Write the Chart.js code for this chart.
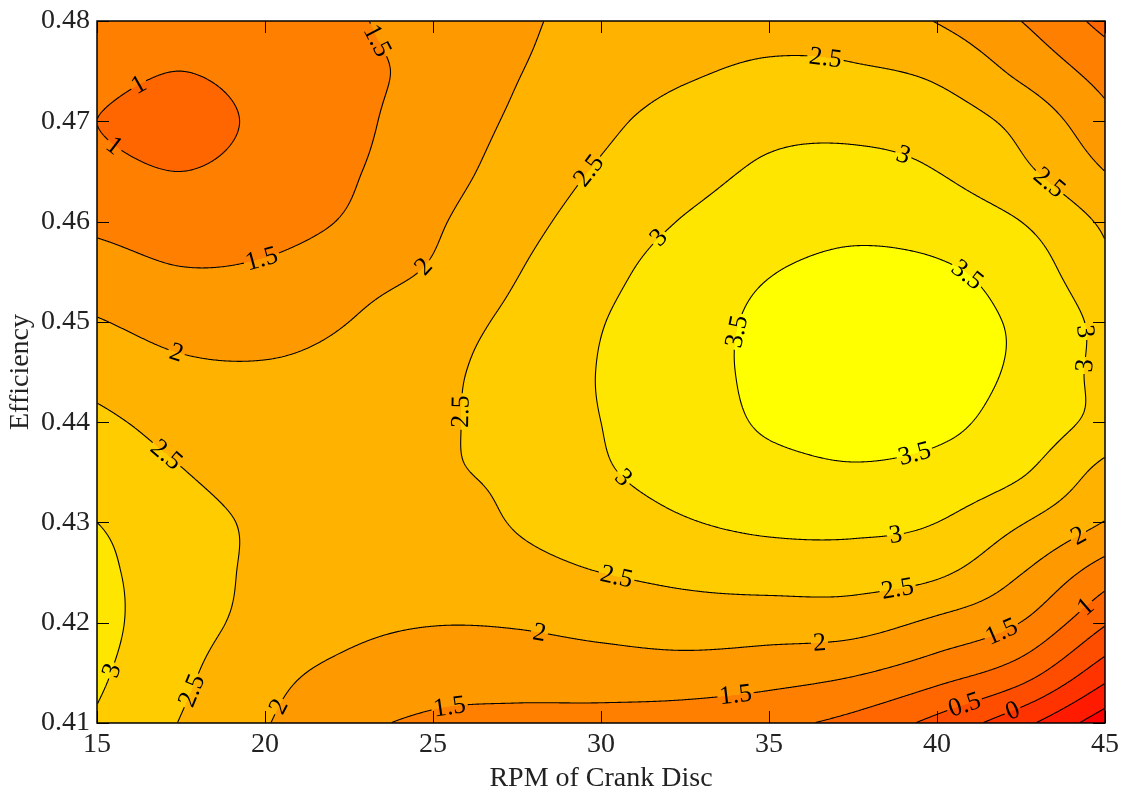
<!DOCTYPE html>
<html>
<head>
<meta charset="utf-8">
<script src="https://cdn.jsdelivr.net/npm/chart.js@4.4.1/dist/chart.umd.min.js"></script>
<style>
  html, body { margin: 0; padding: 0; background: #fff; }
  #wrap { width: 1128px; height: 798px; }
</style>
</head>
<body>
<div id="wrap"><canvas id="contourChart" width="1128" height="798"></canvas></div>
<script>
// grid axes
const rpm = [15, 17.5, 20, 22.5, 25, 27.5, 30, 32.5, 35, 37.5, 40, 42.5, 45];
const efficiency = [0.41, 0.415, 0.42, 0.425, 0.43, 0.435, 0.44, 0.445, 0.45, 0.455, 0.46, 0.465, 0.47, 0.475, 0.48];

// surface values, one row per efficiency
const eff041  = [2.95, 2.48, 2.03, 1.62, 1.42, 1.35, 1.32, 1.25, 1.12, 0.85, 0.35, -0.35, -1.3];
const eff0415 = [3.08, 2.6, 2.15, 1.88, 1.72, 1.72, 1.76, 1.78, 1.7, 1.55, 1.21, 0.73, -0.3];
const eff042  = [3.15, 2.7, 2.35, 2.12, 2.02, 2.04, 2.15, 2.25, 2.23, 2.2, 1.9, 1.49, 0.55];
const eff0425 = [3.1, 2.75, 2.4, 2.3, 2.3, 2.35, 2.5, 2.62, 2.71, 2.72, 2.58, 2.02, 1.25];
const eff043  = [3.0, 2.72, 2.4, 2.25, 2.3, 2.53, 2.78, 2.97, 3.1, 3.12, 3.0, 2.53, 1.98];
const eff0435 = [2.75, 2.52, 2.25, 2.2, 2.43, 2.6, 2.95, 3.15, 3.35, 3.45, 3.35, 3.05, 2.34];
const eff044  = [2.59, 2.35, 2.2, 2.2, 2.4, 2.72, 3.0, 3.24, 3.56, 3.64, 3.6, 3.3, 2.85];
const eff0445 = [2.33, 2.1, 2.05, 2.15, 2.38, 2.7, 3.02, 3.32, 3.6, 3.72, 3.64, 3.42, 2.85];
const eff045  = [2.03, 1.82, 1.82, 2.0, 2.28, 2.61, 2.98, 3.3, 3.59, 3.72, 3.62, 3.43, 2.85];
const eff0455 = [1.72, 1.53, 1.58, 1.82, 2.05, 2.48, 2.86, 3.22, 3.48, 3.6, 3.56, 3.28, 2.6];
const eff046  = [1.4, 1.25, 1.3, 1.55, 1.93, 2.34, 2.71, 3.03, 3.27, 3.39, 3.28, 3.0, 2.42];
const eff0465 = [1.14, 1.0, 1.18, 1.45, 1.8, 2.19, 2.55, 2.83, 3.07, 3.14, 3.0, 2.6, 2.0];
const eff047  = [1.0, 0.82, 1.1, 1.39, 1.72, 2.07, 2.39, 2.7, 2.87, 2.87, 2.75, 2.35, 1.65];
const eff0475 = [1.15, 1.0, 1.18, 1.4, 1.62, 1.98, 2.2, 2.43, 2.58, 2.55, 2.4, 1.89, 1.3];
const eff048  = [1.25, 1.2, 1.3, 1.45, 1.68, 1.92, 2.15, 2.22, 2.3, 2.28, 1.98, 1.5, 0.85];

const surfaceRows = [eff041, eff0415, eff042, eff0425, eff043, eff0435, eff044, eff0445,
                     eff045, eff0455, eff046, eff0465, eff047, eff0475, eff048];

// contour levels and tick labels
const levels = [-1, -0.5, 0, 0.5, 1, 1.5, 2, 2.5, 3, 3.5];
const xTicks = [15, 20, 25, 30, 35, 40, 45];
const yTicks = [0.41, 0.42, 0.43, 0.44, 0.45, 0.46, 0.47, 0.48];

// where the inline level labels sit (rpm, efficiency, text)
const labelSpots = [
    [16.3, 0.4732, '1'], [15.3, 0.4668, '1'],
    [23.1, 0.4774, '1.5'], [19.9, 0.4558, '1.5'],
    [24.6, 0.4558, '2'], [17.3, 0.4466, '2'],
    [29.7, 0.4648, '2.5'], [36.6, 0.4757, '2.5'], [43.4, 0.4640, '2.5'],
    [39.0, 0.4665, '3'], [31.8, 0.4582, '3'],
    [40.7, 0.4540, '3.5'], [34.3, 0.4489, '3.5'], [39.4, 0.4357, '3.5'],
    [43.9, 0.4490, '3'], [44.6, 0.4455, '3'],
    [26.0, 0.4411, '2.5'], [30.7, 0.4347, '3'], [17.0, 0.4366, '2.5'],
    [38.75, 0.4284, '3'], [30.4, 0.4244, '2.5'], [38.8, 0.4232, '2.5'],
    [44.3, 0.4279, '2'], [28.1, 0.4186, '2'], [36.5, 0.4175, '2'],
    [41.9, 0.4194, '1.5'], [44.55, 0.4212, '1'],
    [15.6, 0.4150, '3'], [18.1, 0.4130, '2.5'], [20.8, 0.4111, '2'],
    [25.5, 0.4111, '1.5'], [34.0, 0.4120, '1.5'],
    [40.9, 0.4113, '0.5'], [42.3, 0.4108, '0']
];

const FONT = "'Liberation Serif', 'Times New Roman', serif";
const LABEL_FONT = '26px ' + FONT;

// value at a grid node, extended linearly past the edges
function nodeValue(r, c) {
    const nr = surfaceRows.length, nc = rpm.length;
    const rowVal = (rr) => {
        const row = surfaceRows[rr];
        if (c < 0) return 2 * row[0] - row[1];
        if (c > nc - 1) return 2 * row[nc - 1] - row[nc - 2];
        return row[c];
    };
    if (r < 0) return 2 * rowVal(0) - rowVal(1);
    if (r > nr - 1) return 2 * rowVal(nr - 1) - rowVal(nr - 2);
    return rowVal(r);
}

function catmull(p0, p1, p2, p3, t) {
    return p1 + 0.5 * t * (p2 - p0 + t * (2 * p0 - 5 * p1 + 4 * p2 - p3 + t * (3 * (p1 - p2) + p3 - p0)));
}

function surfaceAt(xv, yv) {
    const u = (xv - rpm[0]) / (rpm[1] - rpm[0]);
    const v = (yv - efficiency[0]) / (efficiency[1] - efficiency[0]);
    const c = Math.min(Math.max(Math.floor(u), 0), rpm.length - 2);
    const r = Math.min(Math.max(Math.floor(v), 0), efficiency.length - 2);
    const tu = u - c, tv = v - r;
    const col = [];
    for (let k = -1; k <= 2; k++) {
        col.push(catmull(nodeValue(r + k, c - 1), nodeValue(r + k, c), nodeValue(r + k, c + 1), nodeValue(r + k, c + 2), tu));
    }
    return catmull(col[0], col[1], col[2], col[3], tv);
}

// autumn colormap, one colour per band
function bandColor(k) {
    return [255, Math.round(255 * k / levels.length), 0];
}

const contourPlugin = {
    id: 'contourPlot',
    beforeDatasetsDraw(chart) {
        const { ctx, chartArea: a, scales: { x, y } } = chart;
        const left = Math.round(a.left), top = Math.round(a.top);
        const w = Math.round(a.right) - left, h = Math.round(a.bottom) - top;
        const field = new Float32Array(w * h);
        const xs = new Float64Array(w);
        for (let i = 0; i < w; i++) xs[i] = x.getValueForPixel(left + i + 0.5);
        for (let j = 0; j < h; j++) {
            const yv = y.getValueForPixel(top + j + 0.5);
            for (let i = 0; i < w; i++) field[j * w + i] = surfaceAt(xs[i], yv);
        }
        const f = (i, j) => field[Math.min(Math.max(j, 0), h - 1) * w + Math.min(Math.max(i, 0), w - 1)];

        // filled bands
        const img = ctx.createImageData(w, h);
        for (let p = 0; p < w * h; p++) {
            const v = field[p];
            let k = 0;
            while (k < levels.length && v >= levels[k]) k++;
            const col = bandColor(k);
            img.data[p * 4] = col[0];
            img.data[p * 4 + 1] = col[1];
            img.data[p * 4 + 2] = col[2];
            img.data[p * 4 + 3] = 255;
        }
        ctx.putImageData(img, left, top);

        // place the labels on their contour, rotated along it
        ctx.save();
        ctx.font = LABEL_FONT;
        const placed = labelSpots.map(([xv, yv, text]) => {
            const L = parseFloat(text);
            const ci = Math.round(x.getPixelForValue(xv)) - left;
            const cj = Math.round(y.getPixelForValue(yv)) - top;
            let best = null, bestD = Infinity;
            for (let dj = -35; dj <= 35; dj++) {
                for (let di = -35; di <= 35; di++) {
                    const i = ci + di, j = cj + dj;
                    if (i < 1 || j < 1 || i >= w - 2 || j >= h - 2) continue;
                    const v = f(i, j);
                    const cross = (v - L) * (f(i + 1, j) - L) <= 0 || (v - L) * (f(i, j + 1) - L) <= 0;
                    if (!cross) continue;
                    const d = di * di + dj * dj;
                    if (d < bestD) { bestD = d; best = [i, j]; }
                }
            }
            const [bi, bj] = best || [Math.min(Math.max(ci, 2), w - 3), Math.min(Math.max(cj, 2), h - 3)];
            const gx = f(bi + 2, bj) - f(bi - 2, bj);
            const gy = f(bi, bj + 2) - f(bi, bj - 2);
            let ang = Math.atan2(gx, -gy);
            if (ang > Math.PI / 2) ang -= Math.PI;
            if (ang < -Math.PI / 2) ang += Math.PI;
            return { text, ang, px: left + bi + 0.5, py: top + bj + 0.5, bw: ctx.measureText(text).width + 4, bh: 18 };
        });
        ctx.restore();
        chart.$labels = placed;

        // contour lines (marching squares), broken where labels sit
        ctx.save();
        ctx.beginPath();
        ctx.rect(left, top, w, h);
        for (const lb of placed) {
            const c = Math.cos(lb.ang), s = Math.sin(lb.ang);
            const hw = lb.bw / 2, hh = lb.bh / 2;
            const pts = [[-hw, -hh], [hw, -hh], [hw, hh], [-hw, hh]]
                .map(([u, v]) => [lb.px + u * c - v * s, lb.py + u * s + v * c]);
            ctx.moveTo(pts[0][0], pts[0][1]);
            for (let k = 1; k < 4; k++) ctx.lineTo(pts[k][0], pts[k][1]);
            ctx.closePath();
        }
        ctx.clip('evenodd');
        ctx.strokeStyle = '#000';
        ctx.lineWidth = 1.1;
        ctx.beginPath();
        for (const L of levels) {
            for (let j = 0; j < h - 1; j++) {
                for (let i = 0; i < w - 1; i++) {
                    const tl = field[j * w + i], tr = field[j * w + i + 1];
                    const bl = field[(j + 1) * w + i], br = field[(j + 1) * w + i + 1];
                    const a0 = tl >= L, a1 = tr >= L, a2 = br >= L, a3 = bl >= L;
                    if (a0 === a1 && a1 === a2 && a2 === a3) continue;
                    const pts = [];
                    const px = left + i + 0.5, py = top + j + 0.5;
                    if (a0 !== a1) pts.push([px + (L - tl) / (tr - tl), py]);
                    if (a1 !== a2) pts.push([px + 1, py + (L - tr) / (br - tr)]);
                    if (a2 !== a3) pts.push([px + (L - bl) / (br - bl), py + 1]);
                    if (a3 !== a0) pts.push([px, py + (L - tl) / (bl - tl)]);
                    if (pts.length === 2) {
                        ctx.moveTo(pts[0][0], pts[0][1]);
                        ctx.lineTo(pts[1][0], pts[1][1]);
                    } else if (pts.length === 4) {
                        const centre = (tl + tr + br + bl) / 4 >= L;
                        const pairs = centre === a0 ? [[0, 1], [2, 3]] : [[0, 3], [1, 2]];
                        for (const [m, n] of pairs) {
                            ctx.moveTo(pts[m][0], pts[m][1]);
                            ctx.lineTo(pts[n][0], pts[n][1]);
                        }
                    }
                }
            }
        }
        ctx.stroke();
        ctx.restore();
    },
    afterDatasetsDraw(chart) {
        const { ctx } = chart;
        ctx.save();
        ctx.fillStyle = '#000';
        ctx.font = LABEL_FONT;
        ctx.textAlign = 'center';
        ctx.textBaseline = 'middle';
        for (const lb of chart.$labels) {
            ctx.save();
            ctx.translate(lb.px, lb.py);
            ctx.rotate(lb.ang);
            ctx.fillText(lb.text, 0, 1);
            ctx.restore();
        }
        ctx.restore();
    },
    afterDraw(chart) {
        const { ctx, chartArea: a, scales: { x, y } } = chart;
        const t = 12;
        ctx.save();
        ctx.strokeStyle = '#000';
        ctx.lineWidth = 1;
        ctx.beginPath();
        for (const v of xTicks) {
            const px = Math.round(x.getPixelForValue(v)) + 0.5;
            ctx.moveTo(px, a.bottom); ctx.lineTo(px, a.bottom - t);
            ctx.moveTo(px, a.top); ctx.lineTo(px, a.top + t);
        }
        for (const v of yTicks) {
            const py = Math.round(y.getPixelForValue(v)) + 0.5;
            ctx.moveTo(a.left, py); ctx.lineTo(a.left + t, py);
            ctx.moveTo(a.right, py); ctx.lineTo(a.right - t, py);
        }
        ctx.stroke();
        ctx.lineWidth = 1.5;
        ctx.strokeRect(a.left, a.top, a.right - a.left, a.bottom - a.top);
        ctx.restore();
    }
};

const gridPoints = [];
surfaceRows.forEach((row, r) => row.forEach((z, c) => gridPoints.push({ x: rpm[c], y: efficiency[r], z })));

const ctx = document.getElementById('contourChart').getContext('2d');
const contourChart = new Chart(ctx, {
    type: 'scatter',
    data: {
        datasets: [{
            label: 'surface',
            data: gridPoints,
            pointRadius: 0,
            pointHoverRadius: 0
        }]
    },
    options: {
        responsive: false,
        animation: false,
        devicePixelRatio: 1,
        layout: { padding: { left: 0, top: 18, right: 23, bottom: 0 } },
        plugins: { legend: { display: false }, tooltip: { enabled: false } },
        scales: {
            x: {
                type: 'linear',
                min: 15,
                max: 45,
                afterBuildTicks: s => { s.ticks = xTicks.map(v => ({ value: v })); },
                afterFit: s => { s.height = 75; },
                grid: { display: false, drawTicks: false },
                border: { display: false },
                ticks: {
                    padding: 8,
                    maxRotation: 0,
                    color: '#222',
                    font: { family: FONT, size: 28, lineHeight: 1 },
                    callback: v => String(v)
                },
                title: {
                    display: true,
                    text: 'RPM of Crank Disc',
                    color: '#222',
                    font: { family: FONT, size: 28 },
                    padding: { top: 0, bottom: 3 }
                }
            },
            y: {
                type: 'linear',
                min: 0.41,
                max: 0.48,
                afterBuildTicks: s => { s.ticks = yTicks.map(v => ({ value: v })); },
                afterFit: s => { s.width = 97; },
                grid: { display: false, drawTicks: false },
                border: { display: false },
                ticks: {
                    padding: 7,
                    color: '#222',
                    font: { family: FONT, size: 28, lineHeight: 1 },
                    callback: v => Number(v).toFixed(2)
                },
                title: {
                    display: true,
                    text: 'Efficiency',
                    color: '#222',
                    font: { family: FONT, size: 28 },
                    padding: { top: 4, bottom: 0 }
                }
            }
        }
    },
    plugins: [contourPlugin]
});
</script>
</body>
</html>
